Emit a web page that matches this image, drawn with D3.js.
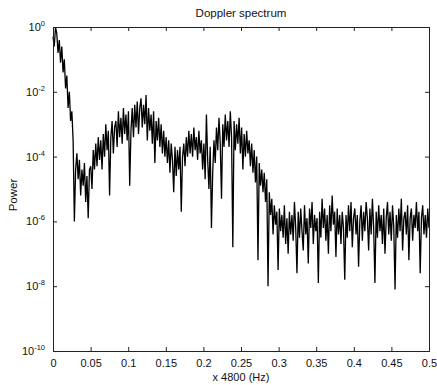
<!DOCTYPE html>
<html>
<head>
<meta charset="utf-8">
<script src="https://cdn.jsdelivr.net/npm/d3@7/dist/d3.min.js"></script>
<style>
  body { margin: 0; background: #fff; }
  svg { display: block; font-family: "Liberation Sans", Arial, sans-serif; }
</style>
</head>
<body>
<svg id="chart" width="437" height="385"></svg>
<script>
// ── Data (log10 of power) ───────────────────────────────────────────────────
const freqMax = 0.5;
const xTicks = [0, 0.05, 0.1, 0.15, 0.2, 0.25, 0.3, 0.35, 0.4, 0.45, 0.5];
const yTickExps = [0, -2, -4, -6, -8, -10];

const logPower = [
  -0.3, -0.6, 0.0, -0.2, -0.8, -0.4, -1.1, -0.6, -1.4, -1.0,
  -1.9, -1.5, -2.5, -2.0, -2.9, -2.6, -3.5, -6.0, -4.4, -3.9,
  -4.7, -4.1, -5.2, -4.4, -4.9, -4.2, -5.4, -4.6, -5.9, -4.4,
  -4.3, -5.0, -3.8, -4.4, -3.6, -4.3, -3.4, -4.1, -3.5, -4.4,
  -3.3, -4.0, -3.0, -3.8, -3.2, -5.2, -3.4, -2.9, -3.9, -3.1,
  -2.9, -3.7, -2.6, -3.4, -2.8, -3.6, -2.5, -3.3, -2.7, -3.5,
  -2.6, -4.9, -3.2, -2.5, -3.4, -2.4, -3.1, -2.3, -3.3, -2.5,
  -2.2, -3.1, -2.4, -3.0, -2.1, -3.5, -2.5, -3.2, -2.7, -3.6,
  -2.6, -4.2, -2.9, -3.5, -2.8, -3.7, -3.0, -3.9, -3.2, -4.0,
  -3.4, -4.2, -3.5, -4.5, -3.6, -4.1, -5.1, -3.7, -4.6, -3.8,
  -4.4, -3.7, -5.7, -4.0, -3.6, -4.3, -3.4, -4.0, -3.2, -3.9,
  -3.3, -4.0, -3.1, -3.8, -3.4, -4.1, -3.2, -3.9, -3.5, -4.4,
  -3.6, -4.7, -2.7, -4.1, -5.0, -3.7, -6.2, -4.5, -3.5, -4.2,
  -3.1, -3.8, -2.8, -3.6, -5.3, -3.0, -3.7, -2.7, -3.5, -2.9,
  -3.7, -2.6, -3.4, -6.8, -2.9, -3.8, -3.0, -3.6, -2.8, -3.9,
  -3.1, -4.4, -3.3, -4.0, -3.2, -3.9, -3.5, -4.3, -3.6, -4.5,
  -3.8, -4.8, -4.0, -7.2, -4.2, -4.9, -4.4, -5.1, -4.5, -5.4,
  -4.7, -8.0, -5.1, -5.8, -5.3, -6.4, -5.5, -6.1, -5.7, -7.5,
  -5.6, -6.3, -5.8, -6.5, -5.5, -6.7, -5.9, -7.0, -5.7, -6.4,
  -5.8, -6.6, -5.4, -6.2, -7.6, -5.7, -6.5, -5.6, -6.3, -6.9,
  -5.5, -6.4, -5.9, -7.3, -5.6, -6.2, -5.4, -6.7, -5.8, -6.3,
  -5.9, -7.9, -5.7, -6.5, -5.3, -6.2, -5.6, -6.6, -5.8, -7.0,
  -5.5, -6.3, -5.2, -6.1, -5.7, -7.1, -5.6, -6.4, -5.8, -6.7,
  -5.7, -6.2, -7.8, -5.8, -6.5, -5.5, -6.3, -5.4, -6.8, -5.9,
  -5.6, -6.4, -5.8, -7.4, -6.0, -5.5, -6.6, -5.7, -6.3, -5.4,
  -5.9, -6.9, -5.6, -6.4, -5.3, -6.2, -7.9, -5.7, -6.5, -5.5,
  -6.3, -5.8, -6.7, -5.6, -7.0, -5.9, -5.4, -6.4, -5.7, -6.6,
  -5.5, -6.2, -8.1, -5.8, -6.5, -5.6, -6.3, -5.3, -6.9, -5.9,
  -5.7, -6.4, -5.5, -7.2, -5.9, -5.6, -6.6, -5.8, -6.2, -5.4,
  -6.3, -5.7, -7.6, -5.9, -5.5, -6.4, -5.8, -6.5, -5.6, -6.2
];

// ── Layout ──────────────────────────────────────────────────────────────────
const margin = { top: 27, right: 8, bottom: 34, left: 53 };
const W = 437, H = 385;
const innerW = W - margin.left - margin.right;
const innerH = H - margin.top - margin.bottom;

const svg = d3.select("#chart");
const g = svg.append("g").attr("transform", `translate(${margin.left},${margin.top})`);

const step = freqMax / (logPower.length - 1);
const points = logPower.map((v, i) => ({ f: i * step, p: Math.pow(10, v) }));

const x = d3.scaleLinear().domain([0, freqMax]).range([0, innerW]);
const y = d3.scaleLog().domain([1e-10, 1]).range([innerH, 0]);

// ── Spectrum line
g.append("path")
  .datum(points)
  .attr("fill", "none")
  .attr("stroke", "#000")
  .attr("stroke-width", 1.3)
  .attr("stroke-linejoin", "miter")
  .attr("d", d3.line().x(d => x(d.f)).y(d => y(d.p)));

// ── Frame + inward ticks
const tickLen = 4;

const xBottom = d3.axisBottom(x).tickValues(xTicks).tickSize(-tickLen).tickPadding(8).tickFormat(d => String(d));
const xTop = d3.axisTop(x).tickValues(xTicks).tickSize(-tickLen).tickFormat("");
const yTickVals = yTickExps.map(e => Math.pow(10, e));
const yLeft = d3.axisLeft(y).tickValues(yTickVals).tickSize(-tickLen).tickFormat("");
const yRight = d3.axisRight(y).tickValues(yTickVals).tickSize(-tickLen).tickFormat("");

g.append("g").attr("transform", `translate(0,${innerH})`).call(xBottom);
g.append("g").call(xTop);
g.append("g").call(yLeft);
g.append("g").attr("transform", `translate(${innerW},0)`).call(yRight);

g.selectAll(".domain").attr("stroke", "#222").attr("stroke-width", 1);
g.selectAll(".tick line").attr("stroke", "#222");
g.selectAll(".tick text").attr("font-size", 11).attr("fill", "#111")
  .attr("font-family", "'Liberation Sans', Arial, sans-serif");

// ── Y tick labels as 10 with superscript exponent
const yLab = g.append("g").attr("font-size", 11).attr("fill", "#111");
yTickExps.forEach(e => {
  const t = yLab.append("text")
    .attr("x", -8)
    .attr("y", y(Math.pow(10, e)) + 4)
    .attr("text-anchor", "end");
  t.append("tspan").text("10");
  t.append("tspan").attr("dy", -5).attr("font-size", 7.5).text(e === 0 ? "0" : "-" + Math.abs(e));
});

// ── Titles
svg.append("text")
  .attr("x", margin.left + innerW / 2)
  .attr("y", 17)
  .attr("text-anchor", "middle")
  .attr("font-size", 11.5)
  .attr("fill", "#111")
  .text("Doppler spectrum");

svg.append("text")
  .attr("x", margin.left + innerW / 2)
  .attr("y", 381)
  .attr("text-anchor", "middle")
  .attr("font-size", 11)
  .attr("fill", "#111")
  .text("x 4800 (Hz)");

svg.append("text")
  .attr("transform", `translate(17,${margin.top + innerH / 2 + 6}) rotate(-90)`)
  .attr("text-anchor", "middle")
  .attr("font-size", 11.5)
  .attr("fill", "#111")
  .text("Power");
</script>
</body>
</html>
